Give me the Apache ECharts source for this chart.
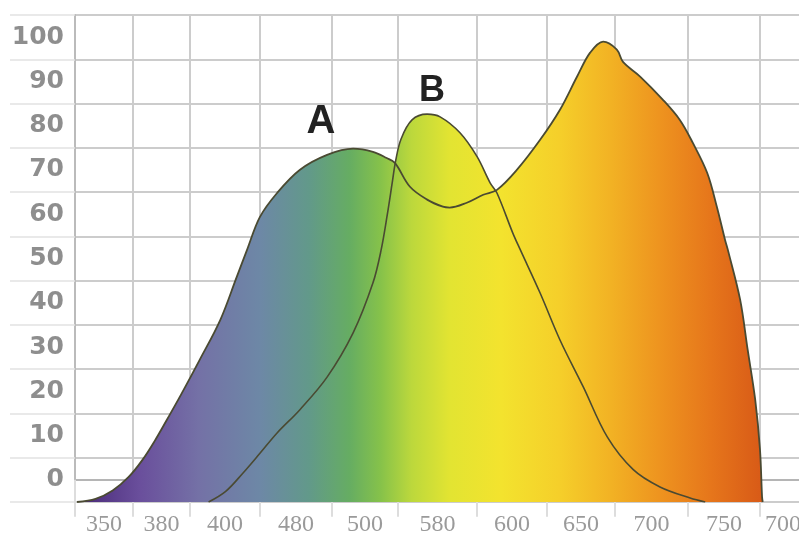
<!DOCTYPE html>
<html>
<head>
<meta charset="utf-8">
<script src="https://cdn.jsdelivr.net/npm/echarts@6/dist/echarts.min.js"></script>
<style>html,body{margin:0;padding:0;background:#fff;}#c{width:799px;height:539px;}</style>
</head>
<body>
<div id="c"></div>
<script>
// x tick labels (one per grid cell) and y tick labels (one per grid cell)
var xLabels = ['350','380','400','480','500','580','600','650','700','750','700'];
var yLabels = ['0','10','20','30','40','50','60','70','80','90','100'];
// hand-drawn grid: cell edges along x, in the same units as the curve data
var xCellEdges = [0, 0.847, 1.679, 2.701, 3.752, 4.715, 5.869, 6.891, 7.883, 8.949, 10.0, 10.67];
// curve data: [position along x, value]
var curveA = [[0.03,-5],[0.3,-4.3],[0.55,-2.4],[0.78,0.6],[0.98,4.4],[1.16,8.7],[1.35,13.8],[1.55,19.3],[1.82,27.1],[2.12,36.1],[2.36,45.8],[2.51,51.9],[2.70,59.4],[2.95,64.8],[3.28,70.0],[3.68,73.4],[4.06,74.8],[4.35,74.1],[4.55,72.7],[4.67,71.6],[4.89,66.2],[5.14,63.3],[5.37,61.7],[5.47,61.5],[5.72,62.6],[5.96,64.4],[6.16,65.5],[6.45,70.0],[6.79,76.8],[7.08,83.6],[7.33,91.1],[7.52,96.5],[7.71,99.0],[7.91,97.2],[8.00,94.4],[8.25,91.1],[8.58,85.9],[8.83,81.3],[9.02,76.1],[9.23,69.3],[9.37,61.7],[9.49,54.2],[9.53,52.0],[9.71,40.7],[9.82,29.4],[9.93,18.1],[10.0,6.8],[10.03,-3.8],[10.04,-5]];
var curveB = [[1.95,-5],[2.2,-2.6],[2.45,1.5],[2.7,6.0],[2.95,10.6],[3.28,15.8],[3.68,23.2],[4.06,33.2],[4.35,44.5],[4.47,52.0],[4.56,60.0],[4.63,67.0],[4.68,72.0],[4.76,77.0],[4.92,81.3],[5.14,82.6],[5.33,82.0],[5.62,78.4],[5.87,73.0],[6.06,67.1],[6.16,64.8],[6.39,55.8],[6.50,52.0],[6.79,42.2],[7.08,31.6],[7.42,21.0],[7.77,9.7],[8.15,2.3],[8.54,-1.6],[8.98,-4.1],[9.20,-5]];
var labelA = [3.59, 80.9];
var labelB = [5.21, 87.9];

var xCellCenters = [];
for (var i = 0; i < xLabels.length; i++) {
  xCellCenters.push((xCellEdges[i] + xCellEdges[i + 1]) / 2);
}

var spectrum = {
  type: 'linear', x: 75, y: 0, x2: 762, y2: 0, global: true,
  colorStops: [
    {offset: 0.00, color: '#4a2c78'},
    {offset: 0.02, color: '#4e2f7e'},
    {offset: 0.095, color: '#6a4f9c'},
    {offset: 0.18, color: '#7471a6'},
    {offset: 0.27, color: '#6d88a6'},
    {offset: 0.34, color: '#62998a'},
    {offset: 0.40, color: '#66ad62'},
    {offset: 0.445, color: '#86c24a'},
    {offset: 0.49, color: '#bcd83c'},
    {offset: 0.545, color: '#e2e432'},
    {offset: 0.62, color: '#f3e32e'},
    {offset: 0.705, color: '#f5cf2a'},
    {offset: 0.78, color: '#f2b224'},
    {offset: 0.85, color: '#ee941f'},
    {offset: 0.925, color: '#e6761b'},
    {offset: 1.00, color: '#d85a17'}
  ]
};

var chart = echarts.init(document.getElementById('c'), null, {renderer: 'canvas'});
var lineColor = '#4a4a32';
chart.setOption({
  animation: false,
  backgroundColor: '#ffffff',
  grid: {left: 75, top: 15, width: 753.5, height: 487, containLabel: false, outerBoundsMode: 'none'},
  xAxis: [
    {
      type: 'value', min: 0, max: 11,
      axisLine: {show: true, lineStyle: {color: '#b5b5b5', width: 2}},
      axisTick: {show: true, customValues: xCellEdges, length: 37, lineStyle: {color: '#dddddd', width: 2}},
      axisLabel: {
        customValues: xCellCenters, margin: 11, fontFamily: 'Liberation Serif', fontSize: 24, color: '#9a9a9a',
        formatter: function (v) {
          for (var k = 0; k < xCellCenters.length; k++) {
            if (Math.abs(xCellCenters[k] - v) < 1e-6) return xLabels[k];
          }
          return '';
        }
      },
      splitLine: {show: true, lineStyle: {color: '#cccccc', width: 2}}
    }
  ],
  yAxis: [
    {
      type: 'category', data: yLabels, boundaryGap: true,
      axisLine: {show: true, lineStyle: {color: '#bbbbbb', width: 2}},
      axisTick: {show: true, length: 65, lineStyle: {color: '#e2e2e2', width: 1.5}},
      axisLabel: {margin: 11, fontFamily: 'DejaVu Sans', fontWeight: 'bold', fontSize: 25, color: '#8e8e8e'},
      splitLine: {show: true, lineStyle: {color: '#cccccc', width: 2}}
    },
    {type: 'value', min: -5, max: 105, show: false}
  ],
  series: [
    {
      type: 'line', name: 'A fill', yAxisIndex: 1, data: curveA,
      smooth: 0.35, symbol: 'none', lineStyle: {width: 0}, areaStyle: {color: spectrum, opacity: 1, origin: 'start'}, z: 2
    },
    {
      type: 'line', name: 'B fill', yAxisIndex: 1, data: curveB,
      smooth: 0.35, symbol: 'none', lineStyle: {width: 0}, areaStyle: {color: spectrum, opacity: 1, origin: 'start'}, z: 2
    },
    {
      type: 'line', name: 'A', yAxisIndex: 1, data: curveA,
      smooth: 0.35, symbol: 'none', lineStyle: {color: lineColor, width: 1.8}, z: 3,
      markPoint: {
        symbol: 'circle', symbolSize: 1, itemStyle: {color: 'rgba(0,0,0,0)'},
        label: {show: true, position: 'inside', formatter: 'A', fontFamily: 'Liberation Sans', fontWeight: 'bold', fontSize: 40, color: '#222222'},
        data: [{coord: labelA}]
      }
    },
    {
      type: 'line', name: 'B', yAxisIndex: 1, data: curveB,
      smooth: 0.35, symbol: 'none', lineStyle: {color: lineColor, width: 1.6}, z: 3,
      markPoint: {
        symbol: 'circle', symbolSize: 1, itemStyle: {color: 'rgba(0,0,0,0)'},
        label: {show: true, position: 'inside', formatter: 'B', fontFamily: 'Liberation Sans', fontWeight: 'bold', fontSize: 36, color: '#222222'},
        data: [{coord: labelB}]
      }
    }
  ]
});
</script>
</body>
</html>
